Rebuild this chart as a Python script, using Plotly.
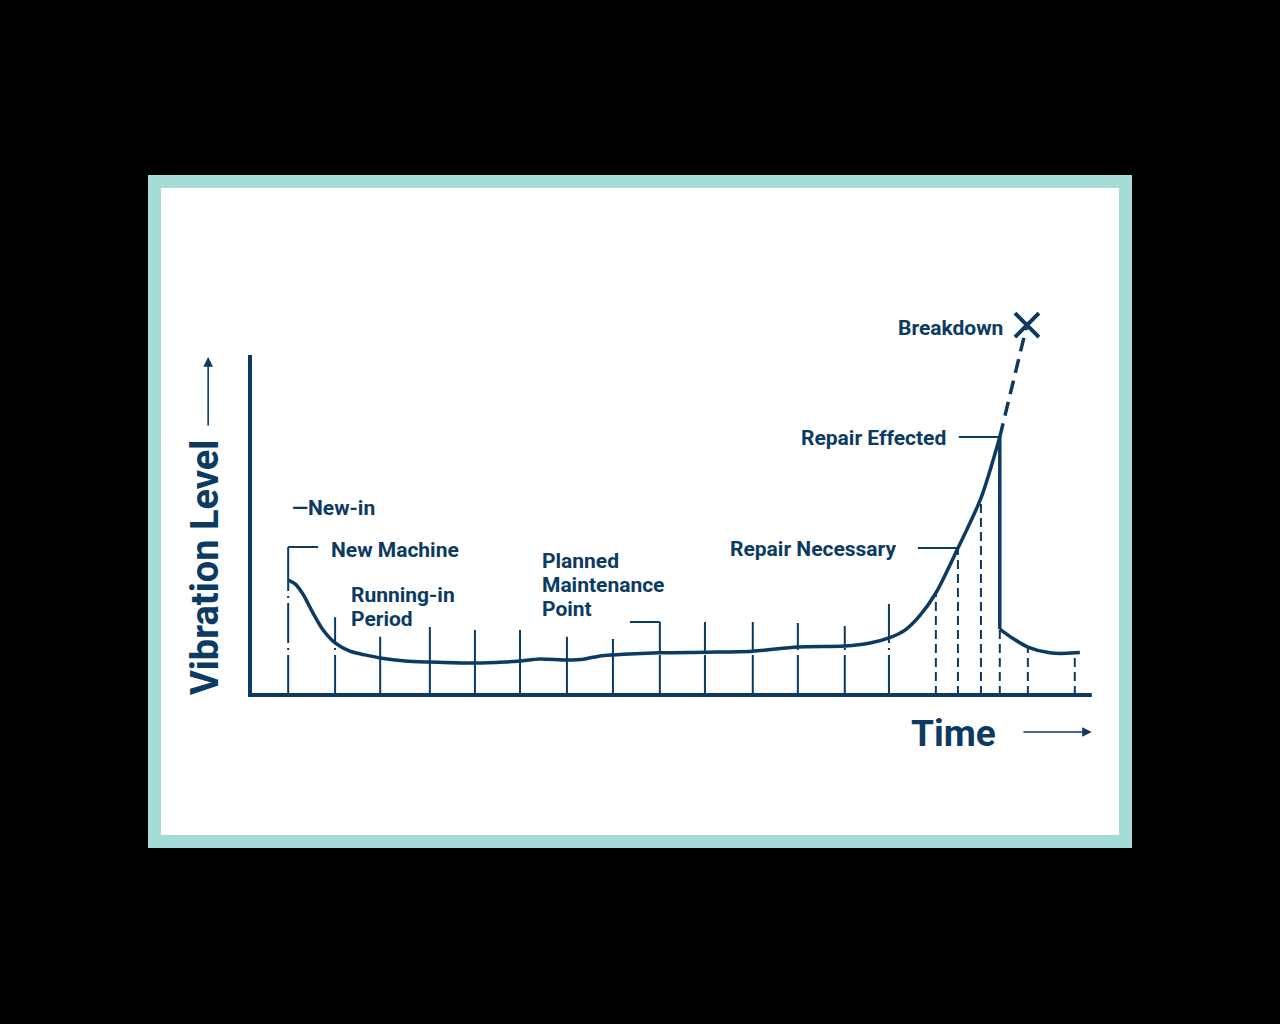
import numpy as np
import plotly.graph_objects as go

NAVY = "#0b3a62"
TEAL = "#a7dbd8"
FONT = "Roboto"

# ---- data (time units, vibration level units) ----
curve_t = [0.83, 0.98, 1.15, 1.37, 1.59, 1.85, 2.17, 2.5, 2.83, 3.37, 3.91, 4.89, 5.54,
           5.87, 6.3, 6.89, 7.28, 7.61, 7.89, 8.91, 9.89, 10.93, 11.91, 12.93, 13.48,
           13.89, 14.24, 14.57, 14.91, 15.39, 15.89, 16.3]
curve_v = [3.38, 3.27, 2.97, 2.41, 1.91, 1.53, 1.29, 1.18, 1.09, 1.0, 0.97, 0.94, 0.97,
           1.0, 1.06, 1.03, 1.06, 1.15, 1.18, 1.24, 1.26, 1.29, 1.41, 1.44, 1.53,
           1.68, 1.91, 2.35, 3.0, 4.32, 5.79, 7.59]
repair_t = [16.3, 16.3]
repair_v = [7.59, 1.94]
after_t = [16.3, 16.6, 16.91, 17.39, 17.93, 18.04]
after_v = [1.94, 1.65, 1.41, 1.24, 1.24, 1.26]
breakdown_t = [16.3, 16.89]
breakdown_v = [7.59, 10.88]

# inspection ticks: position, top of solid part (None = no solid part), style
tick_t = [0.83, 1.85, 2.83, 3.91, 4.89, 5.87, 6.89, 7.89, 8.91, 9.89, 10.93, 11.91,
          12.93, 13.89, 14.91, 15.39, 15.89, 16.3, 16.91, 17.93]
tick_top = [4.35, 2.29, 1.71, 2.0, 1.91, 1.91, 1.71, 1.65, 2.15, 2.15, 2.15, 2.12,
            2.03, 2.68, None, None, None, None, None, None]
tick_dashed = [False] * 14 + [True] * 6

# bracket lines (t0, t1, level)
brackets = [(0.83, 1.48, 4.35), (8.26, 8.91, 2.15), (14.52, 15.39, 4.32), (15.41, 16.3, 7.59)]

AXIS_T_END = 18.3
AXIS_V_END = 10.0

# ---- geometry (pixel mapping of the drawing) ----
X0PX, XSCALE = 250, 46.0
Y0PX, YSCALE = 695, 34.0
XR = [-1.5, 19.0]
YR = [-1.8, 12.0]
W, H = 1280, 1024

fig = go.Figure()


def curve_at(t):
    if abs(t - 16.3) < 1e-6:
        return after_v[0]
    return float(np.interp(t, curve_t + after_t[1:], curve_v + after_v[1:]))


for t, top, dashed in zip(tick_t, tick_top, tick_dashed):
    cv = curve_at(t)
    fig.add_trace(go.Scatter(x=[t, t], y=[0, cv], mode="lines",
                             line=dict(color=NAVY, width=2,
                                       dash="9px,5px" if dashed else "40px,5px,2px,5px"),
                             hoverinfo="skip", showlegend=False))
    if top is not None:
        fig.add_trace(go.Scatter(x=[t, t], y=[cv, top], mode="lines",
                                 line=dict(color=NAVY, width=2),
                                 hoverinfo="skip", showlegend=False))

for t0, t1, v in brackets:
    fig.add_trace(go.Scatter(x=[t0, t1], y=[v, v], mode="lines",
                             line=dict(color=NAVY, width=2),
                             hoverinfo="skip", showlegend=False))

# main curve
fig.add_trace(go.Scatter(x=curve_t, y=curve_v, mode="lines",
                         line=dict(color=NAVY, width=3.5, shape="spline", smoothing=0.8),
                         hoverinfo="skip", showlegend=False))
fig.add_trace(go.Scatter(x=repair_t, y=repair_v, mode="lines",
                         line=dict(color=NAVY, width=3.5),
                         hoverinfo="skip", showlegend=False))
fig.add_trace(go.Scatter(x=after_t, y=after_v, mode="lines",
                         line=dict(color=NAVY, width=3.5, shape="spline", smoothing=0.8),
                         hoverinfo="skip", showlegend=False))
fig.add_trace(go.Scatter(x=breakdown_t, y=breakdown_v, mode="lines",
                         line=dict(color=NAVY, width=3.5, dash="14px,8px"),
                         hoverinfo="skip", showlegend=False))
fig.add_trace(go.Scatter(x=[breakdown_t[-1]], y=[breakdown_v[-1]], mode="markers",
                         marker=dict(symbol="x-thin", size=24,
                                     line=dict(color=NAVY, width=4)),
                         hoverinfo="skip", showlegend=False))

# axes lines
fig.add_trace(go.Scatter(x=[0, 0, AXIS_T_END], y=[AXIS_V_END, 0, 0], mode="lines",
                         line=dict(color=NAVY, width=4),
                         hoverinfo="skip", showlegend=False))


def ann(text, t, v, anchor="left", size=21, **kw):
    fig.add_annotation(x=t, y=v, xref="x", yref="y", text=text, showarrow=False,
                       xanchor=anchor, yanchor="middle",
                       font=dict(family=FONT, size=size, color=NAVY, weight="bold"), **kw)


ann("—New-in", 0.87, 5.5)
ann("New Machine", 1.72, 4.26)
ann("Running-in", 2.15, 2.94)
ann("Period", 2.15, 2.24)
ann("Planned", 6.3, 3.94)
ann("Maintenance", 6.3, 3.24)
ann("Point", 6.3, 2.53)
ann("Repair Necessary", 14.09, 4.29, anchor="right")
ann("Repair Effected", 15.17, 7.56, anchor="right")
ann("Breakdown", 16.41, 10.79, anchor="right")
ann("Time", 14.33, -1.12, size=37)
ann("Vibration Level", -0.98, 3.76, anchor="center", size=38, textangle=-90)

# axis direction arrows
fig.add_annotation(x=18.3, y=-1.09, ax=16.78, ay=-1.09, xref="x", yref="y",
                   axref="x", ayref="y", text="", showarrow=True, arrowhead=2,
                   arrowsize=1.2, arrowwidth=1.6, arrowcolor=NAVY)
fig.add_annotation(x=-0.91, y=9.94, ax=-0.91, ay=7.88, xref="x", yref="y",
                   axref="x", ayref="y", text="", showarrow=True, arrowhead=2,
                   arrowsize=1.2, arrowwidth=1.6, arrowcolor=NAVY)

# frame
fig.add_shape(type="rect", xref="paper", yref="paper",
              x0=148 / W, x1=1132 / W, y0=1 - 848 / H, y1=1 - 175 / H,
              fillcolor=TEAL, line=dict(width=0), layer="below")
fig.add_shape(type="rect", xref="paper", yref="paper",
              x0=161 / W, x1=1119 / W, y0=1 - 835 / H, y1=1 - 188 / H,
              fillcolor="white", line=dict(width=0), layer="below")

xdom = [(X0PX + XSCALE * XR[0]) / W, (X0PX + XSCALE * XR[1]) / W]
ydom = [1 - (Y0PX - YSCALE * YR[0]) / H, 1 - (Y0PX - YSCALE * YR[1]) / H]

fig.update_layout(
    width=W, height=H, margin=dict(l=0, r=0, t=0, b=0),
    paper_bgcolor="black", plot_bgcolor="rgba(0,0,0,0)",
    xaxis=dict(range=XR, domain=xdom, visible=False, fixedrange=True),
    yaxis=dict(range=YR, domain=ydom, visible=False, fixedrange=True),
    showlegend=False,
)

fig.write_html(
    "out.html",
    config={"displayModeBar": False},
    post_script="document.body.style.margin='0';document.body.style.background='black';"
                "document.body.style.overflow='hidden';",
)
